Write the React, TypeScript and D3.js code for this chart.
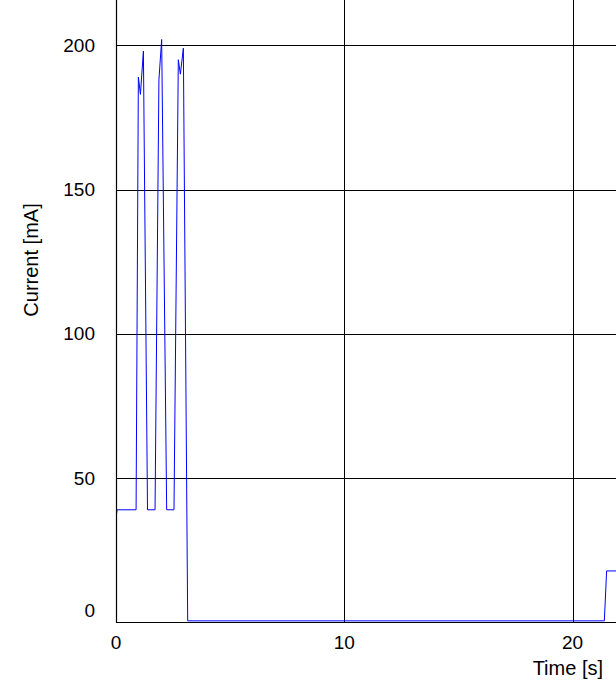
import React from "react";
import * as d3 from "d3";

const timeS: number[] = [0, 0.05, 0.88, 0.98, 1.07, 1.2, 1.38, 1.71, 1.88, 2.0, 2.22, 2.54, 2.73, 2.82, 2.95, 3.14, 21.39, 21.49, 22.5];
const currentMA: number[] = [36.5, 39, 39, 189, 183, 198, 39, 39, 188, 202, 39, 39, 195, 190, 199, 0.5, 0.5, 17.8, 17.8];
const xTicks: number[] = [0, 10, 20];
const yTicks: number[] = [0, 50, 100, 150, 200];
const xTitle = "Time [s]";
const yTitle = "Current [mA]";

const W = 616;
const H = 688;
const left = 116;
const bottom = 622;

export default function App() {
  const x = d3.scaleLinear().domain([0, 20]).range([left, 572.6]);
  const y = d3.scaleLinear().domain([0, 200]).range([622.3, 45.3]);
  const pts = timeS.map((t, i) => [t, currentMA[i]] as [number, number]);
  const line = d3
    .line<[number, number]>()
    .x((d) => x(d[0]))
    .y((d) => y(d[1]));
  const font = "'Liberation Sans', Arial, sans-serif";
  return (
    <svg
      width={W}
      height={H}
      style={{ position: "fixed", left: 0, top: 0, background: "#fff" }}
    >
      <rect x={0} y={0} width={W} height={H} fill="#fff" />
      <defs>
        <clipPath id="plotclip">
          <rect x={left} y={0} width={W - left} height={bottom} />
        </clipPath>
      </defs>
      {xTicks
        .filter((t) => t > 0)
        .map((t) => (
          <line key={"gx" + t} x1={Math.round(x(t)) + 0.5} x2={Math.round(x(t)) + 0.5} y1={0} y2={bottom} stroke="#000" strokeWidth={1} />
        ))}
      {yTicks
        .filter((t) => t > 0)
        .map((t) => (
          <line key={"gy" + t} x1={left} x2={W} y1={Math.round(y(t)) + 0.5} y2={Math.round(y(t)) + 0.5} stroke="#000" strokeWidth={1} />
        ))}
      <path d={line(pts) || ""} fill="none" stroke="#0000ff" strokeWidth={1} clipPath="url(#plotclip)" />
      <line x1={left + 0.5} x2={left + 0.5} y1={0} y2={bottom + 0.5} stroke="#000" strokeWidth={1.2} />
      <line x1={left} x2={W} y1={bottom + 0.5} y2={bottom + 0.5} stroke="#000" strokeWidth={1.2} />
      {yTicks.map((t) => (
        <text
          key={"ty" + t}
          x={95}
          y={t === 0 ? y(t) - 12 : y(t)}
          dy="0.35em"
          textAnchor="end"
          fontFamily={font}
          fontSize={19}
          fill="#000"
        >
          {t}
        </text>
      ))}
      {xTicks.map((t) => (
        <text
          key={"tx" + t}
          x={x(t)}
          y={649}
          textAnchor="middle"
          fontFamily={font}
          fontSize={19}
          fill="#000"
        >
          {t}
        </text>
      ))}
      <text x={603} y={675} textAnchor="end" fontFamily={font} fontSize={20} fill="#000">
        {xTitle}
      </text>
      <text
        transform="translate(38,260) rotate(-90)"
        textAnchor="middle"
        fontFamily={font}
        fontSize={20}
        fill="#000"
      >
        {yTitle}
      </text>
    </svg>
  );
}
